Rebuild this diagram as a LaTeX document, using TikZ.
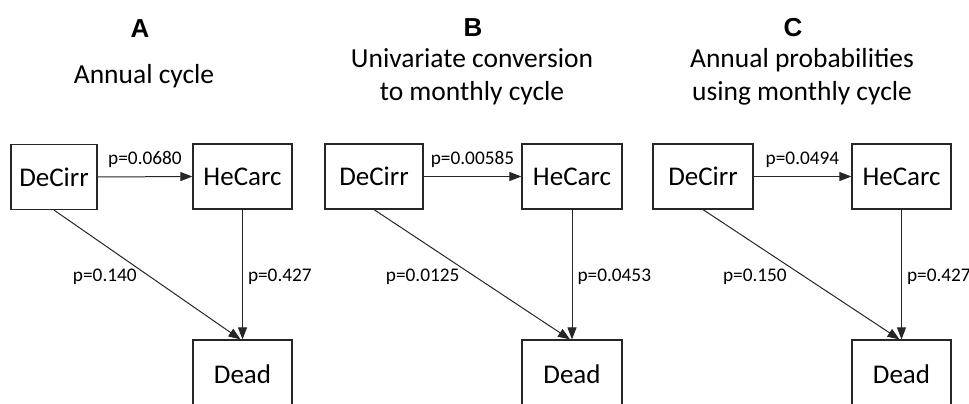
\documentclass[tikz,border=0pt]{standalone}
\usepackage{fontspec}
\setmainfont{Carlito}
\newfontfamily\headfont{Liberation Sans}
\usetikzlibrary{arrows.meta,positioning,calc}
\tikzset{
  statebox/.style={draw=black!85, line width=1.2pt, minimum height=65pt, inner sep=0pt, font=\fontsize{27}{30}\selectfont},
  conn/.style={draw=black!85, line width=1pt, -{Triangle[length=12pt,width=9pt]}},
  plab/.style={inner sep=0pt, font=\fontsize{19.3}{22}\selectfont},
  headlab/.style={inner sep=0pt, font=\headfont\bfseries\fontsize{26}{28}\selectfont},
  titlelab/.style={inner sep=0pt, align=center, font=\fontsize{27.5}{33}\selectfont}
}
\begin{document}
\begin{tikzpicture}[x=1pt,y=-1pt]
\useasboundingbox (0,0) rectangle (969,404);
\clip (0,0) rectangle (969,404);
% ---------- Panel A ----------
\node[headlab, anchor=base] (hA) at (140,38) {A};
\node[titlelab, anchor=base] (tA) at (144,84) {Annual cycle};
\node[statebox, minimum width=86pt] (dA) at (54,177) {DeCirr};
\node[statebox, minimum width=99pt] (cA) at (242.5,176.5) {HeCarc};
\node[statebox, minimum width=99pt] (xA) at (242.5,372.5) {};
\node[inner sep=0pt, anchor=base, font=\fontsize{27}{30}\selectfont] (xAt) at (242.5,383) {Dead};
\draw[conn] (dA.east) -- node[plab, anchor=base, yshift=12pt] (lA1) {p=0.0680} (cA.west);
\draw[conn] (dA.south) -- node[plab, anchor=east, xshift=-10pt, yshift=-2pt] (lA2) {p=0.140} ($(xA.north)+(-2,0)$);
\draw[conn] (cA.south) -- node[plab, anchor=west, xshift=5pt, yshift=-2pt] (lA3) {p=0.427} (xA.north);
% ---------- Panel B ----------
\node[headlab, anchor=base] (hB) at (473,37) {B};
\node[titlelab, anchor=base] (tB) at (472,100) {Univariate conversion\\to monthly cycle};
\node[statebox, minimum width=98pt] (dB) at (374,176.5) {DeCirr};
\node[statebox, minimum width=100pt] (cB) at (572,176.5) {HeCarc};
\node[statebox, minimum width=100pt] (xB) at (572,372.5) {};
\node[inner sep=0pt, anchor=base, font=\fontsize{27}{30}\selectfont] (xBt) at (572,383) {Dead};
\draw[conn] (dB.east) -- node[plab, anchor=base, yshift=12pt] (lB1) {p=0.00585} (cB.west);
\draw[conn] (dB.south) -- node[plab, anchor=east, xshift=-12pt, yshift=-2pt] (lB2) {p=0.0125} ($(xB.north)+(-2,0)$);
\draw[conn] (cB.south) -- node[plab, anchor=west, xshift=5pt, yshift=-2pt] (lB3) {p=0.0453} (xB.north);
% ---------- Panel C ----------
\node[headlab, anchor=base] (hC) at (793,37) {C};
\node[titlelab, anchor=base] (tC) at (802,100) {Annual probabilities\\using monthly cycle};
\node[statebox, minimum width=100pt] (dC) at (703,176.5) {DeCirr};
\node[statebox, minimum width=99pt] (cC) at (901.5,176.5) {HeCarc};
\node[statebox, minimum width=99pt] (xC) at (901.5,372.5) {};
\node[inner sep=0pt, anchor=base, font=\fontsize{27}{30}\selectfont] (xCt) at (901.5,383) {Dead};
\draw[conn] (dC.east) -- node[plab, anchor=base, yshift=12pt] (lC1) {p=0.0494} (cC.west);
\draw[conn] (dC.south) -- node[plab, anchor=east, xshift=-14pt, yshift=-2pt] (lC2) {p=0.150} ($(xC.north)+(-2,0)$);
\draw[conn] (cC.south) -- node[plab, anchor=west, xshift=5pt, yshift=-2pt] (lC3) {p=0.427} (xC.north);
\end{tikzpicture}
\end{document}
